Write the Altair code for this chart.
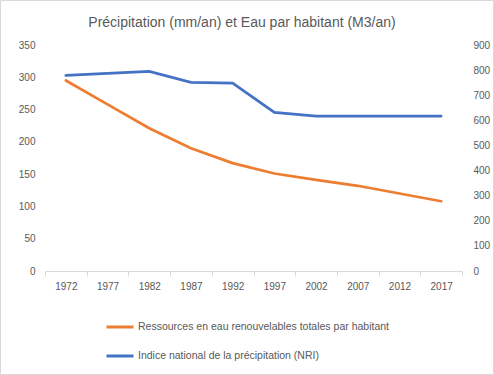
import altair as alt
import pandas as pd

years = ["1972", "1977", "1982", "1987", "1992", "1997", "2002", "2007", "2012", "2017"]
ressources = [295, 258, 221, 190, 167, 151, 141, 132, 120, 108]          # left axis
nri = [779, 787, 795, 751, 748, 632, 617, 617, 617, 617]                  # right axis
left_ticks = [0, 50, 100, 150, 200, 250, 300, 350]
right_ticks = [0, 100, 200, 300, 400, 500, 600, 700, 800, 900]
title_text = "Précipitation (mm/an) et Eau par habitant (M3/an)"

s1 = "Ressources en eau renouvelables totales par habitant"
s2 = "Indice national de la précipitation (NRI)"

df1 = pd.DataFrame({"annee": years, "valeur": ressources, "serie": s1})
df2 = pd.DataFrame({"annee": years, "valeur": nri, "serie": s2})

W, H = 417, 226
FONT = "Liberation Sans"
TXT = "#595959"
GRID = "#d9d9d9"

xenc = alt.X("annee:O", sort=years,
             scale=alt.Scale(type="band", paddingInner=0, paddingOuter=0),
             axis=alt.Axis(title=None, labelAngle=0, tickBand="extent", tickSize=5,
                           domainColor=GRID, tickColor=GRID, labelPadding=5,
                           labelColor=TXT, labelFont=FONT, labelFontSize=10))

color = alt.Color("serie:N",
                  scale=alt.Scale(domain=[s1, s2], range=["#ED7D31", "#4472C4"]),
                  legend=alt.Legend(title=None, orient="none", legendX=60, legendY=267,
                                    direction="vertical", symbolType="stroke",
                                    symbolSize=729, symbolStrokeWidth=3, rowPadding=8,
                                    labelFont=FONT, labelFontSize=10.5, labelColor=TXT,
                                    labelOffset=3, labelLimit=0))

one = pd.DataFrame({"a": [0]})
border = alt.Chart(one).mark_rect(
    fill=None, stroke=GRID, strokeWidth=1
).encode(x=alt.value(-44.5), x2=alt.value(W + 31.5), y=alt.value(-44.5), y2=alt.value(H + 103.5))

title = alt.Chart(one).mark_text(
    font=FONT, fontSize=14, color=TXT, align="center", baseline="middle"
).encode(x=alt.value(197), y=alt.value(-22), text=alt.value(title_text))

left = alt.Chart(df1).mark_line(strokeWidth=2.75, strokeCap="round").encode(
    x=xenc,
    y=alt.Y("valeur:Q", scale=alt.Scale(domain=[0, 350], nice=False),
            axis=alt.Axis(title=None, values=left_ticks, grid=False, domain=False, ticks=False,
                          labelPadding=10, labelColor=TXT, labelFont=FONT, labelFontSize=10,
                          orient="left")),
    color=color,
)

right = alt.Chart(df2).mark_line(strokeWidth=2.75, strokeCap="round").encode(
    x=xenc,
    y=alt.Y("valeur:Q", scale=alt.Scale(domain=[0, 900], nice=False),
            axis=alt.Axis(title=None, values=right_ticks, grid=False, domain=False, ticks=False,
                          labelPadding=11, labelColor=TXT, labelFont=FONT, labelFontSize=10,
                          orient="right")),
    color=color,
)

chart = alt.layer(border, title, left, right).resolve_scale(y="independent").properties(
    width=W, height=H,
    autosize=alt.AutoSizeParams(type="none"),
    padding={"left": 45, "top": 45, "right": 32, "bottom": 104},
    background="white",
).configure_view(stroke=None)

chart.save("out.html", embed_options={"renderer": "svg", "actions": False})
